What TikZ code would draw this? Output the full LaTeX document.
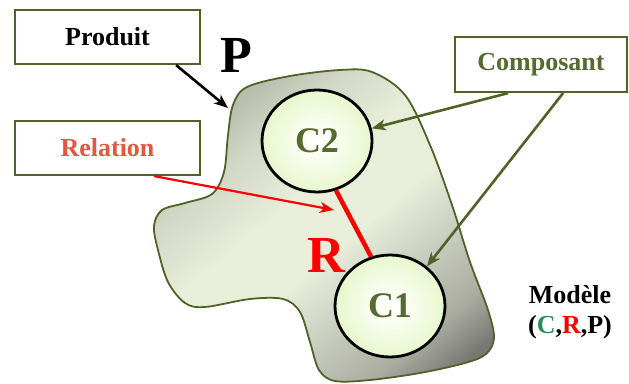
\documentclass[tikz,border=0pt]{standalone}
\usepackage{fontspec}
\setmainfont{Liberation Serif}
\usetikzlibrary{arrows.meta,shapes.geometric}
\definecolor{olive}{RGB}{79,98,40}
\definecolor{olivetext}{RGB}{85,107,47}
\definecolor{reltext}{RGB}{226,88,62}
\definecolor{tealc}{RGB}{46,140,90}
\definecolor{blobA}{RGB}{185,190,172}
\definecolor{blobA2}{RGB}{210,215,198}
\definecolor{blobB}{RGB}{232,238,218}
\definecolor{blobC3}{RGB}{205,210,195}
\definecolor{blobC2}{RGB}{170,172,160}
\definecolor{blobC}{RGB}{120,120,115}
\definecolor{circg}{RGB}{205,238,150}
\definecolor{circw}{RGB}{248,252,238}
\definecolor{redl}{RGB}{255,0,0}
\pgfdeclareverticalshading{blobsh}{100bp}{color(0bp)=(blobC); color(20bp)=(blobC); color(27bp)=(blobC2); color(38bp)=(blobC3); color(46bp)=(blobB); color(56bp)=(blobB); color(66bp)=(blobA2); color(73bp)=(blobA); color(100bp)=(blobA)}
\pgfdeclareradialshading{circsh}{\pgfpoint{0bp}{0bp}}{color(0bp)=(white); color(10bp)=(circw); color(50bp)=(circg)}
\tikzset{
  labelbox/.style={draw=olive, line width=2.2pt, fill=white, minimum width=185pt, minimum height=54pt, inner sep=0pt,
    font=\fontsize{26}{30}\selectfont\bfseries},
  compo/.style={ellipse, draw=black, line width=2.8pt, inner sep=0pt, minimum width=110pt, minimum height=102pt,
    shading=circsh, text=olivetext, font=\fontsize{36}{40}\selectfont\bfseries},
  blob/.style={draw=olive, line width=1.8pt, shading=blobsh, shading angle=40},
  arr/.style={line width=2.6pt, -{Stealth[length=14pt,width=11pt,inset=4pt]}},
  bigletter/.style={inner sep=0pt, font=\fontsize{52}{56}\selectfont\bfseries},
  modtext/.style={inner sep=0pt, anchor=base, font=\fontsize{26}{30}\selectfont\bfseries}
}
\begin{document}
\begin{tikzpicture}[x=1pt,y=-1pt]
\useasboundingbox (0,0) rectangle (629,383);
% blob (product)
\draw[blob] plot[smooth cycle, tension=0.55] coordinates {
 (247,87) (290,76) (340,70) (372,72) (405,95) (430,145) (452,205) (470,262)
 (488,310) (494,338) (486,354) (465,363) (420,373) (370,380) (335,381)
 (319,370) (310,342) (300,312) (283,299) (250,299) (205,307) (185,303)
 (168,282) (158,250) (154,226) (162,210) (185,203) (212,194) (224,172)
 (228,135) (233,105)};
% boxes
\node[labelbox] (prod) at (107.5,37) {Produit};
\node[labelbox, text=reltext] (rel) at (107.5,148) {Relation};
\node[labelbox, text=olivetext, minimum width=172pt, minimum height=55pt] (comp) at (541,64.5) {Composant};
% components
\node[compo] (c2) at (317,141) {C2};
\node[compo] (c1) at (390,306) {C1};
% letters
\node[bigletter] (p) at (236,55) {P};
\node[bigletter, text=redl] (r) at (326,255) {R};
% relation line
\draw[redl, line width=4.5pt] (c2.-69) -- (c1.111);
% arrows
\coordinate (pend) at (228,108);
\coordinate (rend) at (334,210);
\draw[arr, black] ([xshift=-25pt]prod.south east) -- (pend);
\draw[arr, redl, line width=2.2pt] ([xshift=-47pt]rel.south east) -- (rend);
\draw[arr, olive] ([xshift=-120pt]comp.south east) -- (c2.13);
\draw[arr, olive] ([xshift=-65pt]comp.south east) -- (c1.47);
% model label
\node[modtext] (m1) at (570,303) {Modèle};
\node[modtext] (m2) at (570,333) {(\textcolor{tealc}{C},\textcolor{redl}{R},P)};
\end{tikzpicture}
\end{document}
